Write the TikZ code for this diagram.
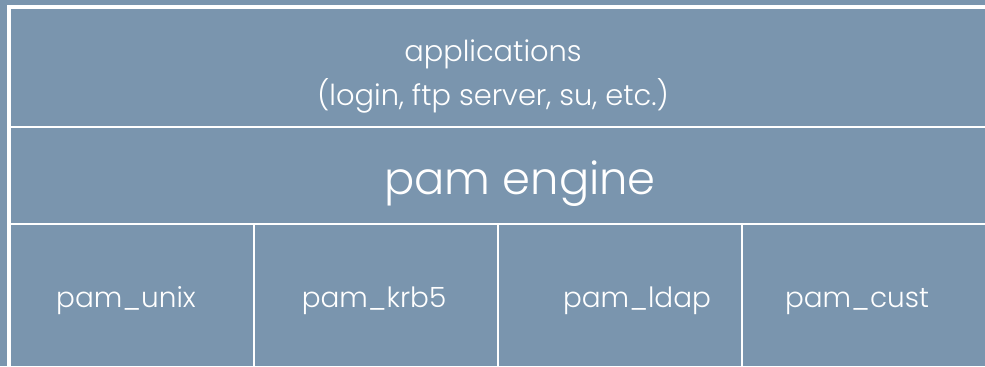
\documentclass[tikz,border=0pt]{standalone}
\usepackage{fontspec}
\setmainfont{Poppins}[UprightFont=* Light]
\definecolor{panel}{RGB}{122,149,174}
\begin{document}
\begin{tikzpicture}[x=1bp,y=-1bp,
  frame/.style={draw=white,line width=4bp},
  divider/.style={draw=white,line width=2bp},
  label/.style={text=white,inner sep=0pt,anchor=base},
  apptext/.style={label,font=\fontsize{29}{35}\selectfont},
  enginetext/.style={label,font=\fontsize{45}{52}\selectfont},
  modtext/.style={label,font=\fontsize{28}{34}\selectfont}]
\useasboundingbox (0,0) rectangle (985,366);
\fill[panel] (0,0) rectangle (985,366);
% outer frame corners and layer boundaries
\coordinate (frameBL) at (9,380);
\coordinate (frameTL) at (9,7);
\coordinate (frameTR) at (1000,7);
\coordinate (appsL) at (9,127);
\coordinate (appsR) at (985,127);
\coordinate (engL) at (9,224);
\coordinate (engR) at (985,224);
\coordinate (d1t) at (253.5,224);
\coordinate (d1b) at (253.5,366);
\coordinate (d2t) at (497.5,224);
\coordinate (d2b) at (497.5,366);
\coordinate (d3t) at (742,224);
\coordinate (d3b) at (742,366);
\draw[frame] (frameBL) -- (frameTL) -- (frameTR);
\draw[divider] (appsL) -- (appsR);
\draw[divider] (engL) -- (engR);
\draw[divider] (d1t) -- (d1b);
\draw[divider] (d2t) -- (d2b);
\draw[divider] (d3t) -- (d3b);
% layer texts
\node[apptext] (apps) at (493,61) {applications};
\node[apptext] (appsub) at (493,105) {(login, ftp server, su, etc.)};
\node[enginetext] (engine) at (520,194) {pam engine};
\node[modtext] (unix) at (126,307) {pam\_unix};
\node[modtext] (krb) at (374,307) {pam\_krb5};
\node[modtext] (ldap) at (637,307) {pam\_ldap};
\node[modtext] (cust) at (857,307) {pam\_cust};
\end{tikzpicture}
\end{document}
